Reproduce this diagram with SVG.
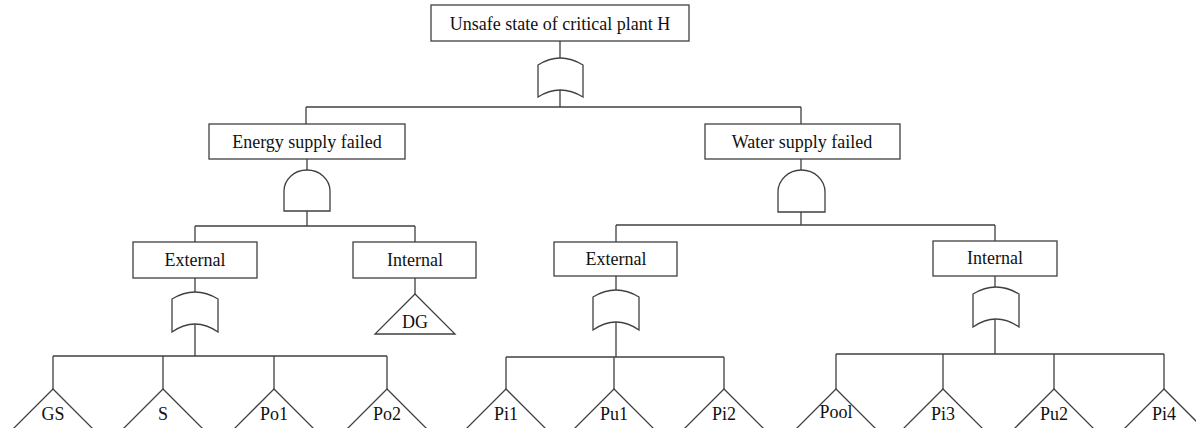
<svg xmlns="http://www.w3.org/2000/svg" width="1196" height="428" viewBox="0 0 1196 428">
<style>
.box{fill:#fff;stroke:#404040;stroke-width:1.3}
.gate{fill:#fff;stroke:#404040;stroke-width:1.3}
.ln{fill:none;stroke:#404040;stroke-width:1.3}
text{font-family:"Liberation Serif","Times New Roman",serif;font-size:18px;fill:#111;text-anchor:middle}
</style>
<rect width="1196" height="428" fill="#fff"/>
<g id="connectors">
<path class="ln" d="M560,41 V58 M560,90 V107 M306,107 H801 M306,107 V124 M801,107 V124"/>
<path class="ln" d="M307,159 V170 M307,211 V226 M195,226 H415 M195,226 V242 M415,226 V242 M415,278 V294"/>
<path class="ln" d="M801,159 V170 M801,212 V225 M616,225 H995 M616,225 V242 M995,225 V241"/>
<path class="ln" d="M195,278 V292 M195,324 V356 M53,356 H387 M53,356 V389 M163,356 V389 M274,356 V389 M387,356 V389"/>
<path class="ln" d="M616,276 V290 M616,322 V357 M506,357 H724 M506,357 V389 M614,357 V389 M724,357 V389"/>
<path class="ln" d="M995,276 V287 M995,319 V354 M836,354 H1164 M836,354 V389 M943,354 V389 M1054,354 V389 M1164,354 V389"/>
</g>
<g id="top">
<rect class="box" x="431" y="5" width="258" height="36"/>
<text x="560" y="30">Unsafe state of critical plant H</text>
<path class="gate" d="M538,65 Q560,51 583,65 L583,97 Q560,83 538,97 Z"/>
</g>
<g id="energy">
<rect class="box" x="209" y="124" width="196" height="35"/>
<text x="307" y="148">Energy supply failed</text>
<path class="gate" d="M284,211 L284,191 A23,21 0 0 1 330,191 L330,211 Z"/>
</g>
<g id="water">
<rect class="box" x="705" y="124" width="195" height="35"/>
<text x="802" y="148">Water supply failed</text>
<path class="gate" d="M778,212 L778,192 A23.5,22 0 0 1 825,192 L825,212 Z"/>
</g>
<g id="energy-external">
<rect class="box" x="133" y="242" width="124" height="36"/>
<text x="195" y="266">External</text>
<path class="gate" d="M172,299 Q195,285 218,299 L218,332 Q195,316 172,332 Z"/>
</g>
<g id="energy-internal">
<rect class="box" x="353" y="242" width="123" height="36"/>
<text x="415" y="266">Internal</text>
</g>
<g id="DG">
<polygon class="box" points="415,294 375,334 455,334"/>
<text x="415" y="328">DG</text>
</g>
<g id="water-external">
<rect class="box" x="554" y="242" width="123" height="34"/>
<text x="616" y="265">External</text>
<path class="gate" d="M593,297 Q616,283 639,297 L639,330 Q616,314 593,330 Z"/>
</g>
<g id="water-internal">
<rect class="box" x="933" y="241" width="124" height="35"/>
<text x="995" y="264">Internal</text>
<path class="gate" d="M973,294 Q996,280 1019,294 L1019,327 Q996,311 973,327 Z"/>
</g>
<g id="GS"><polygon class="box" points="53,389 3,439 103,439"/><text x="53" y="420">GS</text></g>
<g id="S"><polygon class="box" points="163,389 113,439 213,439"/><text x="163" y="420">S</text></g>
<g id="Po1"><polygon class="box" points="274,389 224,439 324,439"/><text x="274" y="420">Po1</text></g>
<g id="Po2"><polygon class="box" points="387,389 337,439 437,439"/><text x="387" y="420">Po2</text></g>
<g id="Pi1"><polygon class="box" points="506,389 456,439 556,439"/><text x="506" y="420">Pi1</text></g>
<g id="Pu1"><polygon class="box" points="614,389 564,439 664,439"/><text x="614" y="420">Pu1</text></g>
<g id="Pi2"><polygon class="box" points="724,389 674,439 774,439"/><text x="724" y="420">Pi2</text></g>
<g id="Pool"><polygon class="box" points="836,389 786,439 886,439"/><text x="836" y="418">Pool</text></g>
<g id="Pi3"><polygon class="box" points="943,389 893,439 993,439"/><text x="943" y="420">Pi3</text></g>
<g id="Pu2"><polygon class="box" points="1054,389 1004,439 1104,439"/><text x="1054" y="420">Pu2</text></g>
<g id="Pi4"><polygon class="box" points="1164,389 1114,439 1214,439"/><text x="1164" y="420">Pi4</text></g>
</svg>
